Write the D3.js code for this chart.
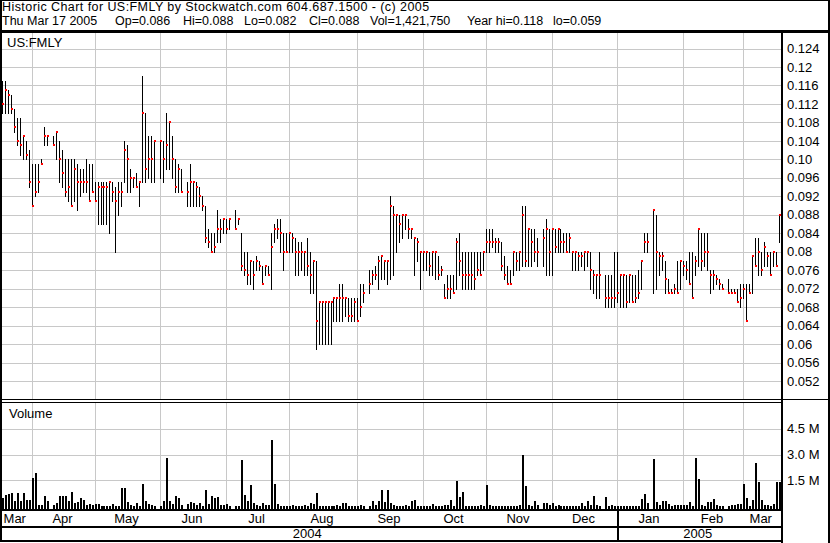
<!DOCTYPE html>
<html><head><meta charset="utf-8">
<script src="https://cdn.jsdelivr.net/npm/d3@7"></script>
<style>
html,body{margin:0;padding:0;background:#fff;}
svg{display:block;font-family:"Liberation Sans",Arial,sans-serif;}
</style></head><body>
<svg id="c" width="830" height="543"></svg>
<script>
// ---------- DATA (one entry per weekday, 2004-03-18 .. 2005-03-17; null = no trading) ----------
const highs = [
.117,.117,.115,.114,.111,.109,.109,.105,.104,.102,
.099,.099,.099,.100,.107,.105,null,.105,.106,.104,
.102,.100,.100,.100,.100,.099,.098,.098,.100,.099,
.099,.095,.095,.095,.095,.095,.095,.095,.094,.095,
.095,.104,.103,.098,.096,.097,.095,.118,.110,.105,
.105,.104,null,.104,.104,.110,.108,.105,.100,.099,
.098,null,.095,.099,.095,.095,.094,.092,.090,.085,
.084,.084,.089,.087,.087,.087,.087,null,.089,.087,
.084,.080,.080,.078,.078,.079,.078,.077,.077,.077,
.084,.086,.087,.087,.084,.084,.084,.084,.083,.082,
.082,.080,.083,.080,.078,.078,.069,.069,.069,.069,
.069,.070,.070,.073,.073,.070,.070,.070,.070,.070,
.073,.073,null,.076,.076,.077,.079,.079,.078,.078,
.092,.090,.088,.088,.088,.088,.087,.085,.083,.083,
.080,.080,.080,.080,.080,.080,.079,.077,.073,.075,
.075,.075,.083,.084,.080,.080,.080,.080,.080,.080,
.080,.080,.085,.085,.085,.083,.083,.082,.079,.077,
.076,.080,.080,.080,.090,.090,.085,.085,.085,.083,
null,.085,.087,.085,.085,.085,.085,.085,.084,.084,
.084,.080,.080,.080,.080,.080,.080,.080,.076,.075,
.080,null,.075,.075,.075,.080,.080,.075,.075,.075,
.075,.075,.075,.076,.078,.084,.084,null,.089,.088,
.080,.080,.078,.074,.072,.073,.078,.078,.078,.078,
.080,.080,.079,.085,.084,.084,.084,.076,.076,.075,
.074,.073,null,.074,.072,.072,.072,.073,.073,.073,
.073,.079,.083,.083,.080,.082,.080,.080,.080,.080,
.088];
const lows = [
.110,.110,.110,.110,.106,.103,.101,.100,.100,.094,
.090,.092,.093,.099,.103,.103,null,.103,.100,.095,
.094,.092,.091,.090,.091,.089,.092,.093,.093,.091,
.093,.091,.086,.086,.086,.086,.084,.091,.080,.088,
.090,.095,.093,.093,.094,.094,.090,.095,.095,.096,
.095,.095,null,.096,.095,.098,.098,.096,.093,.093,
.093,null,.090,.090,.090,.090,.090,.089,.082,.081,
.080,.080,.082,.082,.084,.084,.085,null,.085,.086,
.076,.075,.073,.073,.072,.076,.076,.073,.075,.075,
.072,.082,.083,.080,.076,.080,.080,.080,.075,.075,
.076,.075,.075,.071,.071,.059,.060,.060,.060,.060,
.060,.065,.065,.065,.065,.066,.065,.065,.065,.065,
.066,.069,null,.071,.073,.074,.072,.074,.074,.073,
.074,.075,.080,.082,.083,.085,.083,.083,.075,.078,
.072,.076,.076,.075,.075,.074,.074,.075,.070,.070,
.070,.071,.072,.075,.072,.072,.072,.072,.072,.075,
.075,.076,.080,.080,.081,.080,.080,.076,.074,.073,
.073,.075,.076,.076,.077,.077,.077,.077,.078,.077,
null,.077,.075,.075,.075,.080,.080,.080,.080,.080,
.080,.076,.076,.076,.077,.076,.077,.072,.071,.070,
.070,null,.068,.068,.068,.068,.069,.068,.068,.068,
.069,.069,.069,.070,.072,.080,.080,null,.071,.072,
.075,.076,.071,.071,.071,.071,.071,.072,.075,.074,
.073,.070,.075,.077,.076,.077,.076,.071,.072,.073,
.072,.072,null,.071,.071,.071,.069,.068,.070,.065,
.071,.071,.077,.075,.075,.077,.077,.075,.077,.077,
.082];
const closes = [
.112,.115,.114,.111,.107,.104,.103,.105,.101,.095,
.090,.093,.095,.099,.105,.105,null,.103,.106,.100,
.097,.093,.094,.090,.098,.095,.095,.095,.095,.091,
.093,.091,.094,.094,.094,.094,.095,.093,.091,.093,
.093,.102,.100,.096,.096,.094,.095,.110,.098,.100,
.100,.104,null,.104,.100,.103,.108,.100,.094,.098,
.093,null,.093,.095,.095,.094,.092,.090,.083,.082,
.080,.081,.085,.085,.087,.085,.087,null,.085,.087,
.077,.076,.075,.078,.075,.078,.077,.073,.077,.075,
.081,.085,.085,.084,.080,.080,.084,.083,.080,.080,
.080,.080,.077,.075,.078,.065,.069,.069,.069,.069,
.069,.070,.070,.070,.070,.070,.066,.066,.069,.065,
.068,.071,null,.073,.075,.075,.078,.079,.078,.078,
.090,.088,.088,.086,.088,.088,.085,.085,.083,.082,
.080,.080,.080,.077,.080,.080,.075,.076,.070,.072,
.072,.071,.082,.078,.075,.075,.075,.075,.074,.076,
.075,.080,.082,.082,.082,.082,.082,.077,.075,.073,
.073,.080,.078,.080,.088,.078,.085,.082,.080,.080,
null,.083,.085,.080,.085,.081,.085,.082,.082,.080,
.083,.080,.080,.079,.079,.080,.080,.076,.075,.075,
.075,null,.070,.070,.070,.070,.071,.075,.075,.069,
.075,.069,.070,.071,.078,.082,.082,null,.089,.080,
.079,.079,.074,.071,.071,.072,.071,.078,.077,.076,
.073,.070,.078,.085,.078,.080,.080,.075,.075,.074,
.073,.072,null,.071,.071,.071,.069,.070,.072,.065,
.071,.079,.077,.080,.076,.081,.079,.075,.080,.077,
.088];
// volume in thousands of shares
const volumesK = [
475,670,709,768,318,768,318,768,377,377,
1646,1899,84,84,611,318,null,84,182,572,
572,611,318,826,182,220,475,377,84,123,
84,143,143,10,10,20,20,123,10,10,
1060,1060,240,84,10,182,20,1313,279,123,
84,10,null,10,279,2778,318,143,611,475,
84,null,143,240,182,84,182,20,920,143,
572,475,514,84,84,143,10,null,10,10,
2660,670,279,1254,182,84,20,182,84,84,
3832,1313,123,20,20,10,10,84,25,20,
20,84,20,182,123,768,20,10,10,25,
20,25,84,20,182,182,20,10,20,25,
84,10,null,25,279,84,318,920,240,920,
182,84,25,20,25,84,10,318,377,10,
10,10,20,20,143,20,10,25,84,84,
377,20,1488,514,806,20,10,10,10,10,
84,10,1254,84,25,10,20,25,20,10,
10,20,25,84,2954,1157,84,20,318,84,
null,182,182,84,182,25,84,20,25,20,
10,20,20,20,182,25,318,84,611,84,
10,null,520,20,84,10,20,25,20,25,
20,10,20,25,416,709,182,null,2720,240,
84,279,279,143,20,84,84,84,84,84,
240,20,2778,1548,84,20,240,240,416,84,
20,10,null,25,84,84,123,143,1310,475,
25,377,2480,1390,375,84,84,20,123,1430,
1422];
const priceTicks = [0.052,0.056,0.06,0.064,0.068,0.072,0.076,0.08,0.084,0.088,0.092,0.096,0.10,0.104,0.108,0.112,0.116,0.12,0.124];
const priceTickLabels = ["0.052","0.056","0.06","0.064","0.068","0.072","0.076","0.08","0.084","0.088","0.092","0.096","0.10","0.104","0.108","0.112","0.116","0.12","0.124"];
const volTicks = [1.5e6, 3.0e6, 4.5e6];
const volTickLabels = ["1.5 M","3.0 M","4.5 M"];
const headerTitle = "Historic Chart for US:FMLY by Stockwatch.com 604.687.1500 - (c) 2005";
const headerItems = ["Thu Mar 17 2005","Op=0.086","Hi=0.088","Lo=0.082","Cl=0.088","Vol=1,421,750","Year hi=0.118","lo=0.059"];
const symbolLabel = "US:FMLY";
const volumeLabel = "Volume";

// ---------- LAYOUT ----------
const W = 830, H = 543;
const axisX = 781;
const headerItemX = [2,115,183,244,309,370,467,553];

const svg = d3.select("#c");
const dates = d3.timeDay.range(new Date(2004,2,18), new Date(2005,2,18))
  .filter(d => d.getDay() !== 0 && d.getDay() !== 6);
const N = dates.length;

const x = d3.scaleLinear().domain([0, N - 1]).range([2.43, 2.43 + 2.987 * (N - 1)]);
const col = i => Math.floor(x(i));
const y = d3.scaleLinear().domain([0.052, 0.124]).range([381, 48.5]);
const yV = d3.scaleLinear().domain([0, 4.5e6]).range([506.1, 428.7]);

svg.append("rect").attr("width", W).attr("height", H).attr("fill", "#fff");

const grid = "#c8c8c8";
const gGrid = svg.append("g").attr("shape-rendering", "crispEdges");

// month boundaries: latest weekday on/before the 1st of each month
const monthStarts = d3.timeMonth.range(new Date(2004,3,1), new Date(2005,2,2));
const boundIdx = monthStarts.map(m => d3.bisectRight(dates, m) - 1);
const boundX = boundIdx.map(i => Math.floor(x(i)) + 0.5);

// vertical grid
gGrid.selectAll("line.v").data(boundX).join("line")
  .attr("x1", d => d).attr("x2", d => d).attr("y1", 33).attr("y2", 399)
  .attr("stroke", grid);
gGrid.selectAll("line.vv").data(boundX).join("line")
  .attr("x1", d => d).attr("x2", d => d).attr("y1", 403).attr("y2", 509)
  .attr("stroke", grid);
// horizontal grid
gGrid.selectAll("line.hp").data(priceTicks).join("line")
  .attr("x1", 2).attr("x2", axisX).attr("y1", d => Math.round(y(d)) + 0.5).attr("y2", d => Math.round(y(d)) + 0.5)
  .attr("stroke", grid);
gGrid.selectAll("line.hv").data(volTicks).join("line")
  .attr("x1", 2).attr("x2", axisX).attr("y1", d => Math.round(yV(d)) + 0.5).attr("y2", d => Math.round(yV(d)) + 0.5)
  .attr("stroke", grid);

// price bars
const idx = d3.range(N).filter(i => highs[i] != null);
const gBars = svg.append("g").attr("shape-rendering", "crispEdges");
gBars.selectAll("line").data(idx).join("line")
  .attr("x1", i => col(i) + 0.5).attr("x2", i => col(i) + 0.5)
  .attr("y1", i => Math.round(y(highs[i])))
  .attr("y2", i => Math.round(y(lows[i])) + 1)
  .attr("stroke", "#000").attr("stroke-width", 1);
gBars.selectAll("rect").data(idx).join("rect")
  .attr("x", i => col(i)).attr("width", 2)
  .attr("y", i => Math.round(y(closes[i])) - 1).attr("height", 2)
  .attr("fill", "#ff0000");

// volume bars
const vIdx = d3.range(N).filter(i => volumesK[i] != null);
svg.append("g").attr("shape-rendering", "crispEdges")
  .selectAll("rect").data(vIdx).join("rect")
  .attr("x", i => col(i)).attr("width", 2)
  .attr("y", i => Math.round(yV(volumesK[i] * 1000)))
  .attr("height", i => 509 - Math.round(yV(volumesK[i] * 1000)))
  .attr("fill", "#000");

// frame lines
const gF = svg.append("g").attr("shape-rendering", "crispEdges").attr("fill", "#000");
gF.append("rect").attr("x", 0).attr("y", 0).attr("width", W).attr("height", 1);
gF.append("rect").attr("x", 0).attr("y", 0).attr("width", 2).attr("height", 542);
gF.append("rect").attr("x", W - 2).attr("y", 0).attr("width", 2).attr("height", H);
gF.append("rect").attr("x", 0).attr("y", 30).attr("width", W).attr("height", 3);
gF.append("rect").attr("x", axisX).attr("y", 30).attr("width", 2).attr("height", H - 30);
gF.append("rect").attr("x", 0).attr("y", 399).attr("width", W).attr("height", 1);
gF.append("rect").attr("x", 0).attr("y", 402).attr("width", axisX).attr("height", 1);
gF.append("rect").attr("x", 0).attr("y", 509).attr("width", axisX).attr("height", 2);
gF.append("rect").attr("x", 0).attr("y", 526).attr("width", axisX).attr("height", 2);
gF.append("rect").attr("x", 0).attr("y", 540).attr("width", axisX).attr("height", 2);

// header text
svg.append("text").attr("x", 2).attr("y", 11).attr("font-size", 12.5)
  .attr("letter-spacing", "0.43px").text(headerTitle);
svg.append("g").selectAll("text").data(headerItems).join("text")
  .attr("x", (d, i) => headerItemX[i]).attr("y", 25).attr("font-size", 12.5).text(d => d);

svg.append("text").attr("x", 7).attr("y", 47).attr("font-size", 13).text(symbolLabel);
svg.append("text").attr("x", 9).attr("y", 418).attr("font-size", 13).text(volumeLabel);

// right axis labels
svg.append("g").selectAll("text").data(priceTicks).join("text")
  .attr("x", 787).attr("y", d => y(d)).attr("dy", "0.36em").attr("font-size", 13)
  .text((d, i) => priceTickLabels[i]);
svg.append("g").selectAll("text").data(volTicks).join("text")
  .attr("x", 787).attr("y", d => yV(d)).attr("dy", "0.36em").attr("font-size", 13)
  .text((d, i) => volTickLabels[i]);

// month labels
const segBounds = [0, ...boundX, axisX];
const monthLabelDates = [new Date(2004,2,1), ...monthStarts];
const fmtMonth = d3.timeFormat("%b");
svg.append("g").selectAll("text").data(monthLabelDates).join("text")
  .attr("x", (d, i) => (segBounds[i] + segBounds[i + 1]) / 2 - 1.5)
  .attr("y", 523).attr("text-anchor", "middle").attr("font-size", 13)
  .text(d => fmtMonth(d));

// year row
const janIdx = monthStarts.findIndex(m => m.getFullYear() === 2005 && m.getMonth() === 0);
const janX = boundX[janIdx];
gF.append("rect").attr("x", Math.floor(janX)).attr("y", 509).attr("width", 2).attr("height", 33);
const years = [{label: "2004", a: 0, b: janX}, {label: "2005", a: janX, b: axisX}];
svg.append("g").selectAll("text").data(years).join("text")
  .attr("x", d => (d.a + d.b) / 2 - 1.5).attr("y", 538).attr("text-anchor", "middle")
  .attr("font-size", 13).text(d => d.label);
</script>
</body></html>
